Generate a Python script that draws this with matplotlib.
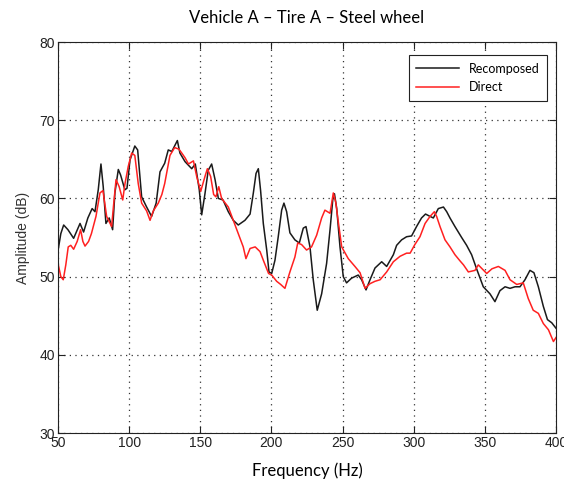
import matplotlib
matplotlib.use("Agg")
import matplotlib.pyplot as plt

title = "Vehicle A \u2013 Tire A \u2013 Steel wheel"
xlabel = "Frequency (Hz)"
ylabel = "Amplitude (dB)"

# recomposed (black)
rec_f = [50, 52, 54, 57, 61, 65.5, 68, 71, 74, 76, 78.3, 80.2, 81.8, 83.7, 86, 88.4,
         90, 92.4, 94, 97, 98.5, 100.6, 104, 106, 108.8, 112.3, 115.8, 119, 121.7,
         125, 127.5, 130, 133.9, 135.7, 139.3, 144, 146.5, 149.3, 151, 153.3, 155.6,
         158, 160.4, 162.7, 166, 169.7, 173.2, 176.7, 181.4, 185, 187.3, 189.2, 190.8,
         192.4, 194.3, 196.7, 198.3, 200.2, 202.5, 204.8, 207.2, 208.8, 210.7, 213,
         216.5, 219.6, 222.4, 224.3, 227.1, 229.4, 232.2, 235.3, 238.8, 241.2, 243.1,
         244.3, 245.9, 248.2, 250.5, 252.8, 256.3, 261, 263.4, 266.5, 269.3, 272.8,
         277.5, 281, 285.7, 288, 291.5, 295, 298.5, 302, 305.5, 308.3, 311.5, 313.8,
         317.3, 320.9, 323.2, 325.5, 329, 333.7, 337.2, 340.7, 344.2, 348.9, 353.6,
         357.1, 360.6, 364.2, 367.7, 371.2, 374.7, 378.2, 381.7, 384.5, 387.6, 391.1,
         394, 397, 400]
rec_a = [53.3, 55.5, 56.6, 56.0, 54.9, 56.8, 55.7, 57.5, 58.7, 58.3, 61.1, 64.4, 61.5,
         56.8, 57.5, 56.0, 60.7, 63.7, 63.0, 61.1, 61.3, 64.9, 66.7, 66.2, 60.2, 58.9,
         57.7, 59.4, 63.4, 64.5, 66.2, 66.0, 67.4, 65.8, 64.7, 63.8, 64.4, 61.1, 57.9,
         60.6, 63.6, 64.4, 62.4, 60.0, 59.8, 58.3, 57.2, 56.6, 57.2, 58.0, 60.7, 63.2,
         63.8, 61.0, 56.8, 53.4, 50.6, 50.4, 52.1, 55.1, 58.5, 59.4, 58.3, 55.6, 54.7,
         54.3, 56.2, 56.4, 53.8, 49.6, 45.7, 47.8, 51.7, 56.0, 59.8, 60.6, 58.7, 53.8,
         50.0, 49.2, 49.8, 50.2, 49.6, 48.3, 49.6, 51.1, 51.9, 51.3, 52.8, 54.0, 54.7,
         55.1, 55.2, 56.4, 57.5, 58.0, 57.7, 57.5, 58.7, 58.9, 58.3, 57.5, 56.4, 55.0,
         54.0, 52.8, 51.0, 48.7, 47.8, 46.8, 48.2, 48.7, 48.5, 48.7, 48.7, 49.6, 50.8,
         50.5, 48.7, 46.2, 44.5, 44.1, 43.4]

# direct (red)
dir_f = [50, 52, 53.7, 55.5, 57.2, 59, 61, 63.5, 65.9, 67.5, 69, 71.5, 73.5, 76.7,
         79.5, 81.6, 84.2, 87.7, 89, 90.8, 93, 95.5, 97.1, 99.4, 101.8, 104, 106.4,
         108.8, 112.3, 114.7, 117, 120.5, 123, 125, 128.7, 132, 135, 137, 139.3, 141.7,
         145.2, 147.5, 150.3, 153.3, 155, 157.3, 159.4, 161, 163, 165, 169.7, 173.2,
         176.7, 180.2, 182.1, 185, 188.6, 192, 194.3, 198, 200.2, 203.7, 206.5, 209.5,
         213, 216.5, 218.5, 221.2, 224.7, 228.2, 231.8, 235.3, 237.6, 241.2, 243.5,
         245.2, 247, 249.4, 254, 258.7, 262.3, 265.8, 269.3, 272.8, 276.4, 281, 285.7,
         290.4, 295, 297.5, 300.8, 304.4, 308, 311.5, 314.5, 316.1, 318.5, 322, 325.5,
         329, 332.6, 335, 338.4, 343.1, 345.4, 351.3, 355, 359.5, 364.2, 367.7, 372.4,
         377, 380.5, 384, 387.6, 391.1, 394.7, 398.2, 400]
dir_a = [51.7, 50.0, 49.6, 51.5, 53.8, 54.0, 53.5, 54.5, 56.0, 54.5, 53.9, 54.5, 55.5,
         57.7, 60.7, 61.0, 57.7, 56.4, 59.0, 62.4, 61.5, 59.8, 61.9, 64.1, 65.8, 65.5,
         61.9, 59.4, 58.4, 57.2, 58.4, 59.4, 60.5, 61.9, 65.5, 66.5, 66.3, 65.8, 65.2,
         64.4, 64.8, 62.8, 60.9, 62.8, 63.8, 62.8, 60.5, 60.2, 61.5, 60.0, 58.9, 57.2,
         55.5, 53.8, 52.3, 53.6, 53.8, 53.2, 52.1, 50.4, 50.2, 49.4, 49.0, 48.5, 50.6,
         52.5, 54.3, 54.1, 53.4, 53.8, 55.3, 57.5, 58.5, 58.1, 60.7, 59.5, 57.0, 53.8,
         52.3, 51.3, 50.5, 48.5, 49.1, 49.4, 49.6, 50.6, 51.9, 52.6, 53.0, 53.0, 54.1,
         55.1, 56.8, 57.7, 58.3, 57.7, 56.4, 54.7, 53.8, 52.8, 52.0, 51.5, 50.6, 50.8,
         51.5, 50.4, 51.0, 51.3, 50.8, 49.6, 49.0, 49.2, 47.2, 45.7, 45.3, 44.0, 43.2,
         41.7, 42.2]

xticks = [50, 100, 150, 200, 250, 300, 350, 400]
yticks = [30, 40, 50, 60, 70, 80]

fig = plt.figure(figsize=(5.64, 4.83), dpi=100)
ax = fig.add_axes([0.1028, 0.1035, 0.883, 0.8095])

ax.plot(rec_f, rec_a, color="#1a1a1a", lw=1.1, label="Recomposed")
ax.plot(dir_f, dir_a, color="#ff2020", lw=1.1, label="Direct")

ax.set_xlim(50, 400)
ax.set_ylim(30, 80)
ax.set_xticks(xticks)
ax.set_yticks(yticks)
ax.tick_params(direction="in", length=5, width=0.8, top=True, right=True,
               labelsize=10, colors="#222222", pad=2)
for lab in ax.get_xticklabels() + ax.get_yticklabels():
    lab.set_family("Liberation Sans")
ax.grid(True, color="#333333", linestyle=(0, (1, 3.5)), linewidth=0.9)
for s in ax.spines.values():
    s.set_linewidth(0.8)
    s.set_color("#222222")

ax.set_title(title, fontsize=12, family="Lato", pad=14)
ax.set_xlabel(xlabel, fontsize=12, family="Lato", labelpad=9)
ax.set_ylabel(ylabel, fontsize=10, family="Liberation Sans", color="#333333", labelpad=7)

leg = ax.legend(loc="upper right", bbox_to_anchor=(0.994, 0.982), fancybox=False,
                framealpha=1, edgecolor="#222222", prop={"family": "Lato", "size": 9},
                handlelength=3.4, borderpad=0.6, labelspacing=0.5)
leg.get_frame().set_linewidth(0.8)

fig.savefig("out.png", dpi=100)
